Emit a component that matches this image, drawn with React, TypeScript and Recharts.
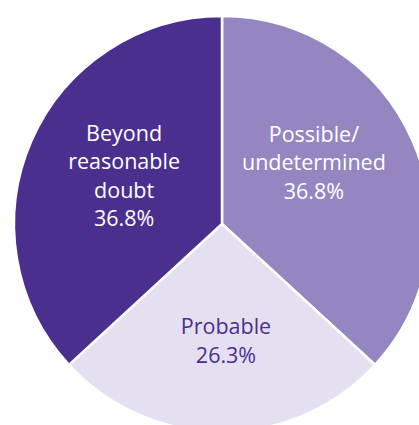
import { PieChart, Pie, Cell } from "recharts";

const categories = ["Possible/\nundetermined", "Probable", "Beyond\nreasonable\ndoubt"];
const shares = [36.8, 26.3, 36.8];
const sliceColors = ["#9586c1", "#e4e0f1", "#4b2f8f"];
const labelColors = ["#ffffff", "#4b2f8f", "#ffffff"];

const data = categories.map((name, i) => ({ name, value: shares[i] }));

// manual nudges so the labels sit where the original has them
const labelNudge = [
  { dx: -10, dy: -18 },
  { dx: 4, dy: 4 },
  { dx: 4, dy: -5 },
];

const RAD = Math.PI / 180;

const SliceLabel = (props: any) => {
  const { cx, cy, midAngle, outerRadius, index, payload, value } = props;
  const r = outerRadius * 0.535;
  const nudge = labelNudge[index];
  const x = cx + r * Math.cos(-midAngle * RAD) + nudge.dx;
  const y = cy + r * Math.sin(-midAngle * RAD) + nudge.dy;
  const lines = [...String(payload.name).split("\n"), `${value.toFixed(1)}%`];
  const lh = 28.5;
  const top = y - ((lines.length - 1) * lh) / 2;
  return (
    <text
      x={x}
      y={top}
      textAnchor="middle"
      dominantBaseline="central"
      fill={labelColors[index]}
      fontSize={21.5}
      fontFamily="'Open Sans', sans-serif"
    >
      {lines.map((l, i) => (
        <tspan key={i} x={x} y={top + i * lh}>
          {l}
        </tspan>
      ))}
    </text>
  );
};

export default function App() {
  return (
    <div style={{ position: "absolute", left: 0, top: 0, background: "#fff" }}>
      <PieChart width={419} height={425} margin={{ top: 0, right: 0, bottom: 0, left: 0 }}>
        <Pie
          data={data}
          dataKey="value"
          cx={222}
          cy={224}
          outerRadius={208}
          startAngle={90}
          endAngle={-270}
          stroke="#ffffff"
          strokeWidth={2.5}
          labelLine={false}
          label={SliceLabel}
          isAnimationActive={false}
        >
          {data.map((d, i) => (
            <Cell key={d.name} fill={sliceColors[i]} />
          ))}
        </Pie>
      </PieChart>
    </div>
  );
}
